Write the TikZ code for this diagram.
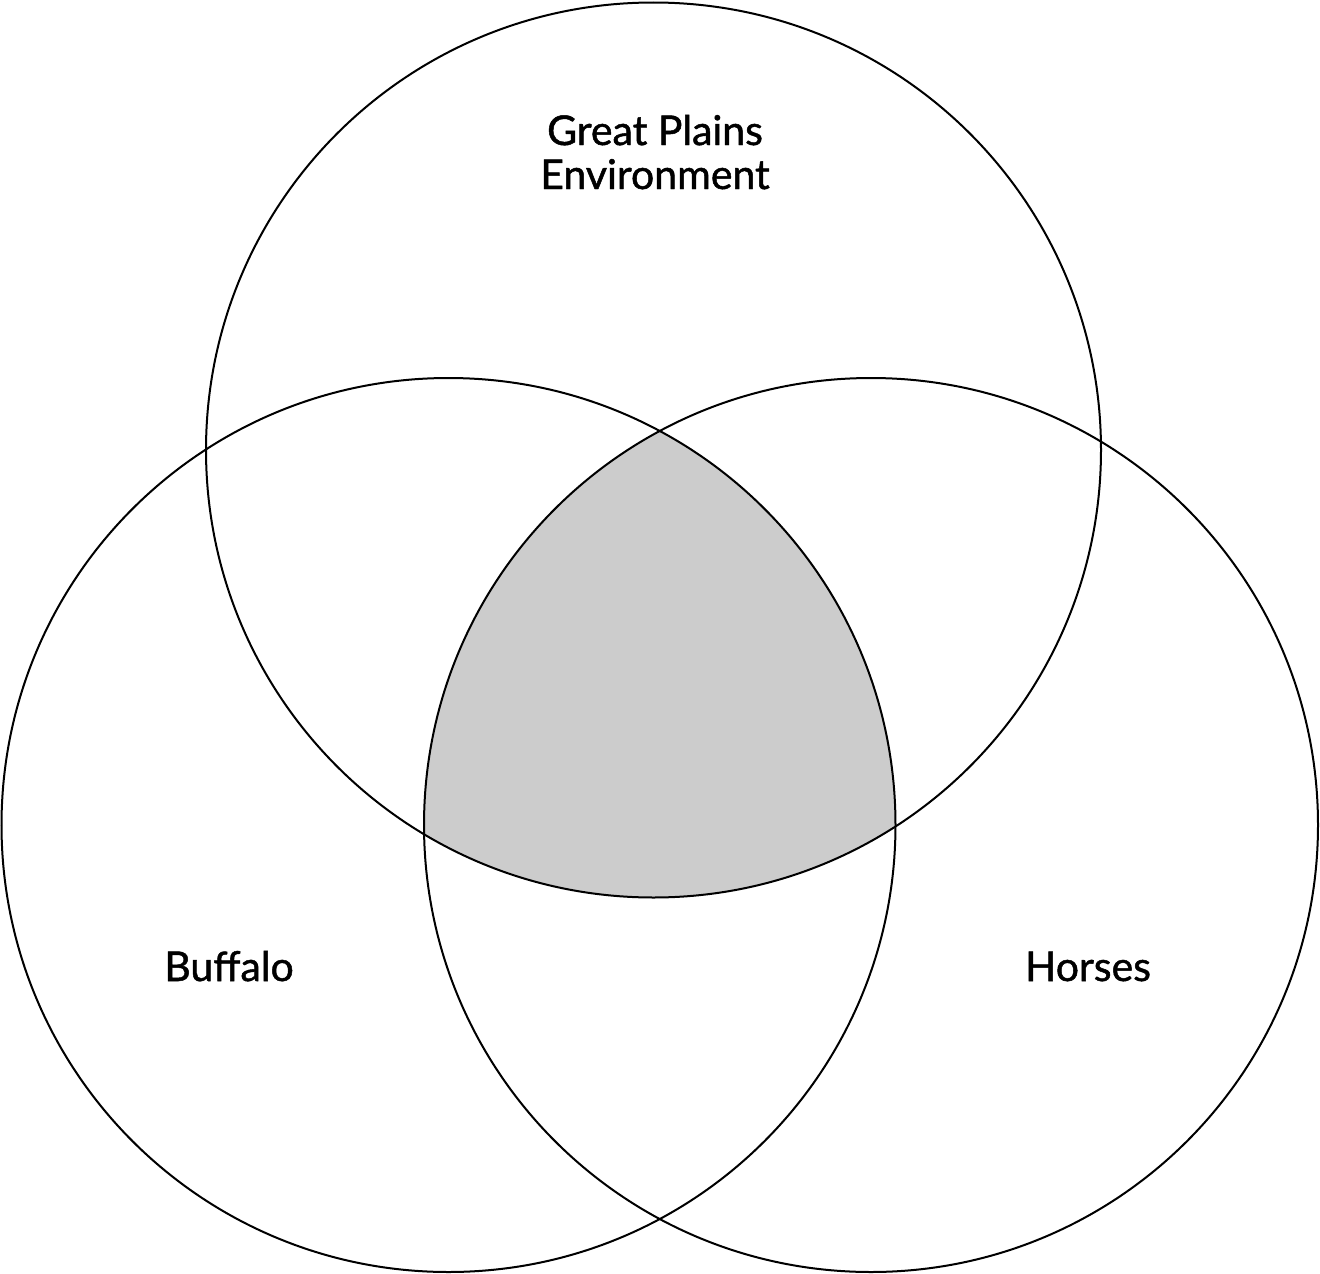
\documentclass[tikz,border=0pt]{standalone}
\usepackage{fontspec}
\setmainfont{Lato}[FakeBold=1.2]
\definecolor{venngray}{HTML}{CCCCCC}
\begin{document}
\begin{tikzpicture}[x=1pt,y=-1pt,
  ring/.style={draw=black,line width=2pt},
  lbl/.style={font=\fontsize{41}{45}\selectfont,inner sep=0pt,anchor=base,align=center}]
\useasboundingbox (0,0) rectangle (1320,1274);
\coordinate (ct) at (653.5,450);
\coordinate (cl) at (448.5,825);
\coordinate (cr) at (871,825);
\begin{scope}
  \clip (ct) circle[radius=447.5];
  \clip (cl) circle[radius=447];
  \fill[venngray] (cr) circle[radius=447];
\end{scope}
\draw[ring] (ct) circle[radius=447.5];
\draw[ring] (cl) circle[radius=447];
\draw[ring] (cr) circle[radius=447];
\node[lbl] (gp) at (655,145) {Great Plains};
\node[lbl] (env) at (655,189) {Environment};
\node[lbl] (buf) at (229,981) {Buffalo};
\node[lbl] (hor) at (1088,981) {Horses};
\end{tikzpicture}
\end{document}
